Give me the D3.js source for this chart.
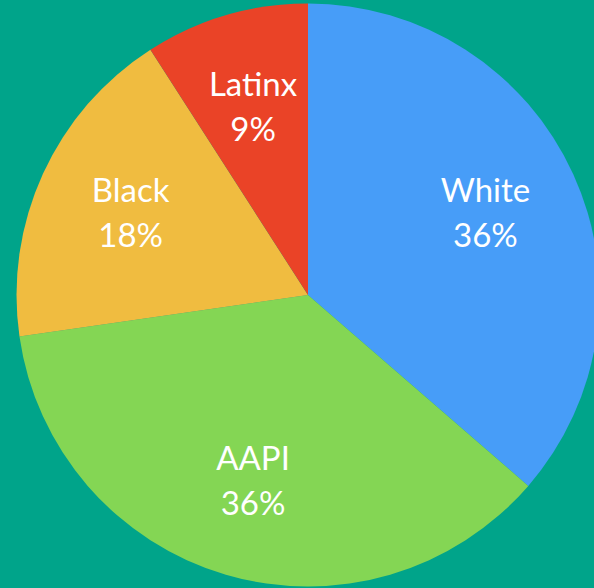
<!DOCTYPE html>
<html><head><meta charset="utf-8">
<script src="https://cdn.jsdelivr.net/npm/d3@7"></script>
<style>html,body{margin:0;padding:0;background:#00A48A;overflow:hidden}</style>
</head><body>
<svg id="c" width="594" height="588"></svg>
<script>
const categories = ["White", "AAPI", "Black", "Latinx"];
const values = [4, 4, 2, 1];
const colors = ["#479DF8", "#84D654", "#F0BC40", "#EA4327"];

const svg = d3.select("#c");
const cx = 308, cy = 295, r = 291.5;
const g = svg.append("g").attr("transform", `translate(${cx},${cy})`);
const total = d3.sum(values);
const data = categories.map((c, i) => ({ name: c, value: values[i], color: colors[i] }));
const pie = d3.pie().value(d => d.value).sort(null);
const arc = d3.arc().innerRadius(0).outerRadius(r);
const labelArc = d3.arc().innerRadius(195).outerRadius(195);
const arcs = pie(data);

g.selectAll("path").data(arcs).join("path")
  .attr("d", arc).attr("fill", d => d.data.color);

const lab = g.selectAll("text").data(arcs).join("text")
  .attr("transform", d => `translate(${labelArc.centroid(d)})`)
  .attr("text-anchor", "middle")
  .attr("fill", "#fff")
  .style("font-family", "Lato, 'Open Sans', sans-serif")
  .style("font-weight", "400")
  .style("font-size", "33px");
lab.append("tspan").attr("x", 0).attr("y", -12).text(d => d.data.name);
lab.append("tspan").attr("x", 0).attr("y", 33).text(d => Math.round(d.data.value / total * 100) + "%");
</script>
</body></html>
